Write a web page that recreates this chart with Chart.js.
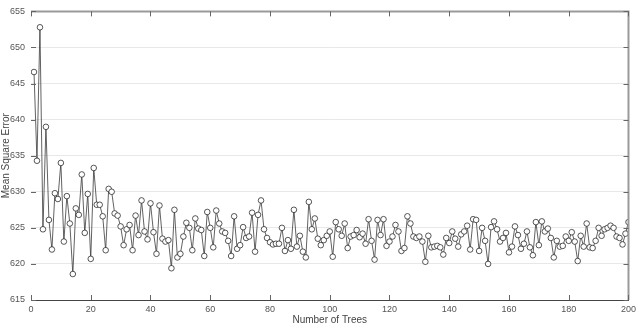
<!DOCTYPE html>
<html>
<head>
<meta charset="utf-8">
<script src="https://cdn.jsdelivr.net/npm/chart.js@4"></script>
<style>
  html, body { margin: 0; padding: 0; background: #fff; }
  canvas { display: block; }
</style>
</head>
<body>
<canvas id="mseChart" width="640" height="326"></canvas>
<script>
// mean square error, one value per tree count (1..200)
const mseA = [646.6, 634.3, 652.8, 624.8, 639.0, 626.1, 622.0, 629.8, 629.0, 634.0,
              623.1, 629.4, 625.6, 618.6, 627.7, 626.8, 632.4, 624.3, 629.7, 620.7,
              633.3, 628.2, 628.2, 626.6, 621.9, 630.4, 630.0, 627.0, 626.7, 625.2,
              622.6, 624.8, 625.4, 621.9, 626.7, 624.0, 628.8, 624.5, 623.4, 628.4];
const mseB = [624.4, 621.4, 628.1, 623.5, 623.1, 623.3, 619.4, 627.5, 620.9, 621.4,
              623.8, 625.7, 625.0, 621.9, 626.3, 624.9, 624.7, 621.1, 627.2, 625.0,
              622.3, 627.4, 625.6, 624.5, 624.3, 623.2, 621.1, 626.6, 622.1, 622.6,
              625.1, 623.6, 623.8, 627.1, 621.7, 626.8, 628.8, 624.8, 623.6, 623.0];
const mseC = [622.7, 622.8, 622.8, 625.0, 621.8, 623.3, 622.1, 627.5, 622.4, 623.9,
              621.7, 620.9, 628.6, 624.8, 626.3, 623.5, 622.6, 623.3, 623.9, 624.5,
              621.0, 625.8, 624.8, 623.9, 625.6, 622.2, 623.8, 624.0, 624.7, 623.7,
              624.2, 622.8, 626.2, 623.2, 620.6, 626.1, 624.0, 626.2, 622.5, 623.1];
const mseD = [623.8, 625.4, 624.5, 621.8, 622.2, 626.6, 625.6, 623.8, 623.6, 623.8,
              623.1, 620.3, 623.9, 622.3, 622.4, 622.5, 622.3, 621.3, 623.6, 622.9,
              624.5, 623.5, 622.4, 624.1, 624.5, 625.3, 622.0, 626.2, 626.1, 621.8,
              625.0, 623.2, 620.0, 625.1, 625.9, 624.8, 623.1, 623.6, 624.3, 621.6];
const mseE = [622.4, 625.2, 624.0, 622.1, 622.8, 624.5, 622.3, 621.2, 625.8, 622.6,
              625.9, 624.5, 624.9, 623.6, 620.9, 623.2, 622.4, 622.5, 623.8, 623.2,
              624.4, 623.1, 620.4, 623.9, 622.4, 625.6, 622.3, 622.2, 623.2, 625.0,
              623.9, 624.8, 625.0, 625.3, 625.0, 623.8, 623.6, 622.7, 624.2, 625.8];

const mse = [...mseA, ...mseB, ...mseC, ...mseD, ...mseE];
const treeCounts = mse.map((_, i) => i + 1);

const xTicks = [0, 20, 40, 60, 80, 100, 120, 140, 160, 180, 200];
const yTicks = [615, 620, 625, 630, 635, 640, 645, 650, 655];

const FONT = "'Liberation Sans', Arial, sans-serif";

// matlab style box: top/right edges plus inward tick marks
const boxPlugin = {
    id: 'boxPlugin',
    afterDraw(chart) {
        const { ctx, chartArea: a, scales } = chart;
        ctx.save();
        ctx.strokeStyle = '#9a9a9a';
        ctx.lineWidth = 2;
        ctx.beginPath();
        ctx.moveTo(a.left, a.top);
        ctx.lineTo(a.right, a.top);
        ctx.lineTo(a.right, a.bottom);
        ctx.stroke();

        ctx.lineWidth = 1;
        ctx.strokeStyle = '#666';
        ctx.beginPath();
        xTicks.forEach(v => {
            const x = Math.round(scales.x.getPixelForValue(v)) + 0.5;
            ctx.moveTo(x, a.bottom);
            ctx.lineTo(x, a.bottom - 5);
            ctx.moveTo(x, a.top);
            ctx.lineTo(x, a.top + 5);
        });
        yTicks.forEach(v => {
            const y = Math.round(scales.y.getPixelForValue(v)) + 0.5;
            ctx.moveTo(a.left, y);
            ctx.lineTo(a.left + 5, y);
            ctx.moveTo(a.right, y);
            ctx.lineTo(a.right - 5, y);
        });
        ctx.stroke();
        ctx.restore();
    }
};

new Chart(document.getElementById('mseChart'), {
    type: 'line',
    data: {
        datasets: [{
            label: 'MSE',
            data: treeCounts.map((t, i) => ({ x: t, y: mse[i] })),
            borderColor: '#3a3a3a',
            borderWidth: 0.8,
            pointRadius: 2.8,
            pointBorderWidth: 0.7,
            pointBorderColor: '#111',
            pointBackgroundColor: '#ffffff',
            tension: 0
        }]
    },
    options: {
        responsive: false,
        animation: false,
        layout: { padding: { top: 3, right: 7, left: 0, bottom: 0 } },
        plugins: {
            legend: { display: false },
            tooltip: { enabled: false }
        },
        scales: {
            x: {
                type: 'linear',
                min: 0,
                max: 200,
                afterFit: s => { s.height = 26; },
                afterBuildTicks: s => { s.ticks = xTicks.map(v => ({ value: v })); },
                grid: { display: false, drawTicks: false },
                border: { display: true, color: '#444', width: 1 },
                ticks: { color: '#555', padding: 4, font: { family: FONT, size: 9 } },
                title: {
                    display: true,
                    text: 'Number of Trees',
                    color: '#444',
                    padding: 0,
                    font: { family: FONT, size: 10 }
                }
            },
            y: {
                min: 615,
                max: 655,
                afterFit: s => { s.width = 31; },
                afterBuildTicks: s => { s.ticks = yTicks.map(v => ({ value: v })); },
                grid: { color: '#e8e8e8', drawTicks: false },
                border: { display: false },
                ticks: { color: '#555', padding: 6, font: { family: FONT, size: 9 } },
                title: {
                    display: true,
                    text: 'Mean Square Error',
                    color: '#444',
                    padding: 0,
                    font: { family: FONT, size: 10 }
                }
            }
        }
    },
    plugins: [boxPlugin]
});
</script>
</body>
</html>
